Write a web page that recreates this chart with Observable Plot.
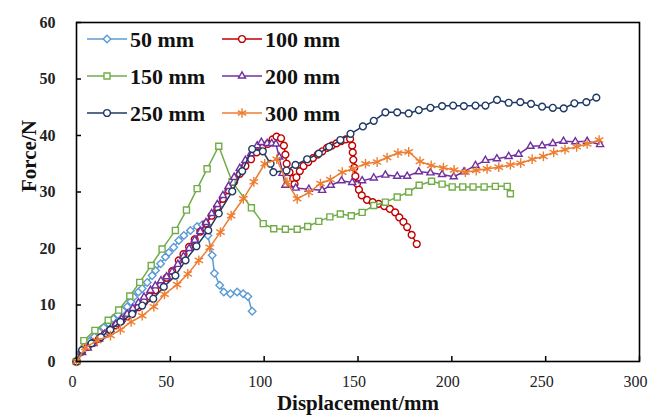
<!DOCTYPE html>
<html>
<head>
<meta charset="utf-8">
<script src="https://cdn.jsdelivr.net/npm/d3@7"></script>
<script src="https://cdn.jsdelivr.net/npm/@observablehq/plot@0.6"></script>
<style>
  html, body { margin: 0; padding: 0; background: white; }
  #wrap { position: relative; width: 649px; height: 418px; }
  #legend { position: absolute; left: 0; top: 0; pointer-events: none; }
</style>
</head>
<body>
<div id="wrap"></div>
<script>
// ---- Data (Displacement/mm, Force/N) ----
const xTicks = [0, 50, 100, 150, 200, 250, 300];
const yTicks = [0, 10, 20, 30, 40, 50, 60];
const seriesNames = ["50 mm", "100 mm", "150 mm", "200 mm", "250 mm", "300 mm"];
const seriesColors = ["#5B9BD5", "#C00000", "#70AD47", "#7030A0", "#1F3864", "#ED7D31"];
const seriesSymbols = ["diamond2", "circle", "square", "triangle2", "circle", "asterisk"];

const s50 = [[0,0],[2,1.5],[4.5,2.8],[7,3.6],[9.5,4.4],[12,5.2],[14.5,6],[17,6.8],[19.5,7.6],[22,8.3],[24.5,9],[27,9.7],[29,10.6],[30.5,11.4],[33,12.3],[35,12.9],[37.7,14],[40.3,15.2],[42.1,16.1],[44.8,17.3],[47.4,18.5],[49.2,19.3],[51.8,20.2],[54.5,21.4],[57.2,22.3],[60.7,23.2],[64.3,23.9],[67,24.2],[69.3,24.2],[70,22.3],[72.3,18.8],[73.5,15.6],[76.3,13.5],[78.5,12.3],[82,12],[85.6,12.3],[88.8,12],[91.3,11.5],[93.6,8.9]];

const s100 = [[0,0],[3,1.8],[6,2.6],[9,3.3],[12,4],[15,4.8],[18,5.6],[21,6.4],[24,7.2],[27,8],[30,8.8],[33,9.6],[36,10.5],[39,11.5],[42,12.6],[45,13.6],[48,14.8],[51,16],[54.5,17.9],[57,19],[60,20.3],[63,21.6],[66,23],[69,24.4],[72,25.8],[75,27.3],[78,28.8],[81,30.3],[84,31.8],[87,33.2],[90,34.6],[93,35.8],[96,37],[99,37.8],[102,38.5],[104.5,39.3],[106.6,39.8],[109,39.5],[110.5,38.2],[111.3,36.6],[112,35],[113.5,33.5],[115.5,32.4],[116.2,31.4],[117.2,32.6],[119,33.7],[121,34.6],[123.5,35.3],[126,36],[128.5,36.6],[131,37.2],[133.5,37.8],[136,38.2],[138.5,38.6],[141,39],[143.5,39.3],[145.8,39.4],[146.9,38.2],[147.2,37],[147.5,35.7],[148,34.3],[148.6,32.8],[149.5,31.5],[150.5,30.4],[152,29.4],[154.8,28.6],[157.8,28.2],[161,27.9],[164,27.5],[167,27],[169.8,26.4],[172,25.5],[174.2,24.7],[176.2,23.8],[178.6,22.4],[181.3,20.8]];

const s150 = [[0,0],[3.9,3.7],[9.8,5.5],[16.9,7.3],[22.5,9.1],[28.4,11.6],[33.7,14],[39.8,17],[45.6,19.9],[52.7,23.2],[58.6,26.8],[64.3,30.6],[69.6,34.1],[75.8,38.1],[82.9,31.8],[93.2,27.2],[99.5,24.4],[105.1,23.5],[111.3,23.4],[117.6,23.4],[123.2,23.9],[129.1,24.8],[135,25.6],[140.6,26.1],[146.4,25.8],[152.2,26.4],[158.4,27.6],[164.6,28.2],[170.9,29.1],[177,30],[182.6,31.2],[189.2,31.9],[194.8,31.4],[200.2,30.9],[205.8,30.9],[211.3,30.9],[217.2,30.9],[223.2,31],[229.5,31],[231.2,29.7]];

const s200 = [[0,0],[3,1.6],[6,2.4],[9,3.2],[12,4],[15,4.8],[18,5.7],[21,6.6],[24,7.5],[27,8.4],[30,9.4],[33,10.4],[36,11.4],[39.4,12.6],[42,13.4],[45,14.3],[48,15],[51,15.9],[54,17.2],[57,18.6],[60,20],[63,21.5],[66,23],[69,24.6],[72,26.2],[75,27.8],[78,29.4],[81,31],[84,32.6],[87,34.2],[90,35.6],[93,36.8],[96.3,38.2],[98.5,38.8],[101.6,38.6],[104,38.6],[106.3,38.5],[108,36.2],[109.8,33.3],[111.3,31.2],[116.8,30.7],[123.8,30.5],[130.9,30.3],[135.5,31.2],[141.2,32],[146.9,31.7],[152.2,32],[158.4,32.5],[164.6,33],[170.9,32.8],[176.2,32.8],[182.4,33.6],[188.6,33.4],[194.8,33.1],[201,32.7],[206.5,33.6],[212.6,34.7],[217.9,35.6],[224,35.9],[230.3,36.3],[235.6,36.7],[241.9,38.1],[248.1,38.2],[253.8,38.6],[259.5,39],[265.8,38.9],[272.1,39],[279,38.4]];

const s250 = [[0,0],[3,2],[8,3.2],[13,4.3],[18,5.6],[23.4,7],[29.7,8.4],[35,9.9],[40.9,11.1],[46.5,13.2],[52.7,15.2],[58.1,17.9],[63.9,20.4],[70.2,23.2],[75.8,26.2],[83,30.1],[88.3,33.7],[93.6,37.6],[99.3,37.2],[103.4,35],[104.9,33.5],[111.9,33.8],[116.7,34.8],[122.9,35.8],[129.1,36.8],[134.6,38],[140.6,39.2],[146,40.3],[152.6,41.6],[158.4,42.6],[164.6,44.1],[170.9,44.1],[177,43.9],[182.4,44.5],[188.6,44.9],[194.8,45.2],[200.7,45.3],[206.4,45.2],[212.6,45.3],[217.9,45.3],[224.1,46.3],[230.3,45.8],[236.5,45.9],[242.2,45.6],[248.1,45.1],[253.8,44.9],[259.6,44.8],[265.3,45.7],[271.7,45.9],[277,46.7]];

const s300 = [[0,0],[4.8,2.5],[11,3.7],[18.1,4.6],[23.4,5.6],[29.1,7],[35,8.1],[41.2,9.7],[46.9,11.9],[53.6,13.6],[59.3,15.5],[65.2,17.9],[71,20.2],[76.7,22.9],[82.4,25.8],[88.9,28.8],[94.5,31.8],[100.3,35],[106.7,35.8],[112.2,31.7],[117.6,28.8],[123.8,29.9],[130,31.5],[135.3,32.2],[141.6,33.5],[147.3,34.1],[154,35],[160.2,35.3],[165.5,36.1],[171.3,36.9],[177,37.1],[183,35.4],[189,34.7],[195.5,34.3],[201.2,33.9],[207.2,33.5],[213,33.8],[218.8,34.1],[225,34.4],[231.2,34.8],[236.7,35.1],[242.8,35.8],[248.8,36.3],[254.3,37],[260.3,37.5],[266.5,38],[272.1,38.5],[278.5,39.2]];

const seriesData = [s50, s100, s150, s200, s250, s300];

// ---- Build long table ----
const rows = seriesData.flatMap((pts, i) => pts.map(([x, y]) => ({series: seriesNames[i], x, y})));

const font = "'Liberation Serif', 'Times New Roman', serif";
const markerR = s => s === "asterisk" ? 4.6 : 3.4;

const marks = [];
seriesNames.forEach((name, i) => {
  const d = rows.filter(r => r.series === name);
  marks.push(Plot.line(d, {x: "x", y: "y", stroke: seriesColors[i], strokeWidth: 1.5}));
  marks.push(Plot.dot(d, {x: "x", y: "y", stroke: seriesColors[i], fill: seriesSymbols[i] === "asterisk" ? "none" : "white",
    symbol: () => seriesSymbols[i], r: markerR(seriesSymbols[i]), strokeWidth: 1.4}));
});

const chart = Plot.plot({
  width: 649,
  height: 418,
  marginLeft: 76,
  marginRight: 10,
  marginTop: 22,
  marginBottom: 57,
  x: {domain: [0, 300]},
  y: {domain: [0, 60]},
  symbol: {type: "identity"},
  style: {fontFamily: font, background: "white", color: "black"},
  marks: [
    Plot.ruleX(xTicks, {x: d => d, y1: 0, y2: 0, insetTop: -5, stroke: "black", strokeWidth: 1.5}),
    Plot.ruleY(yTicks, {y: d => d, x1: 0, x2: 0, insetRight: -5, stroke: "black", strokeWidth: 1.5}),
    Plot.axisX({ticks: xTicks, tickSize: 0, tickPadding: 14, dx: -4, label: null, fontSize: 16, fill: "#222"}),
    Plot.axisY({ticks: yTicks, tickSize: 0, tickPadding: 21, label: null, fontSize: 16, fontWeight: "bold", fill: "#222"}),
    ...marks,
    Plot.frame({stroke: "black", strokeWidth: 1.6}),
    Plot.text(["Force/N"], {frameAnchor: "left", dx: -47, rotate: -90, fontSize: 21, fontWeight: "bold", fill: "#111"}),
    Plot.text(["Displacement/mm"], {frameAnchor: "bottom", dy: 48, fontSize: 21, fontWeight: "bold", fill: "#111"})
  ]
});

const wrap = document.getElementById("wrap");
wrap.appendChild(chart);

// ---- Legend overlay ----
const legendCols = [87, 222];
const legendRows = [39, 76, 113];
const symMap = {diamond2: d3.symbolDiamond2, circle: d3.symbolCircle, square: d3.symbolSquare, triangle2: d3.symbolTriangle2, asterisk: d3.symbolAsterisk};
const lsvg = d3.select(wrap).append("svg").attr("id", "legend").attr("width", 649).attr("height", 418);
seriesNames.forEach((name, i) => {
  const cx = legendCols[i % 2], cy = legendRows[Math.floor(i / 2)];
  const g = lsvg.append("g").attr("transform", `translate(${cx},${cy})`);
  g.append("line").attr("x1", 0).attr("x2", 40).attr("y1", 0).attr("y2", 0)
    .attr("stroke", seriesColors[i]).attr("stroke-width", 1.5);
  const rr = markerR(seriesSymbols[i]);
  g.append("path").attr("transform", "translate(20,0)")
    .attr("d", d3.symbol(symMap[seriesSymbols[i]], Math.PI * rr * rr)())
    .attr("stroke", seriesColors[i]).attr("stroke-width", 1.4)
    .attr("fill", seriesSymbols[i] === "asterisk" ? "none" : "white");
  g.append("text").attr("x", 43).attr("y", 0).attr("dy", "0.35em")
    .attr("font-family", font).attr("font-size", 22).attr("font-weight", "bold").attr("fill", "#111")
    .text(name);
});
</script>
</body>
</html>
